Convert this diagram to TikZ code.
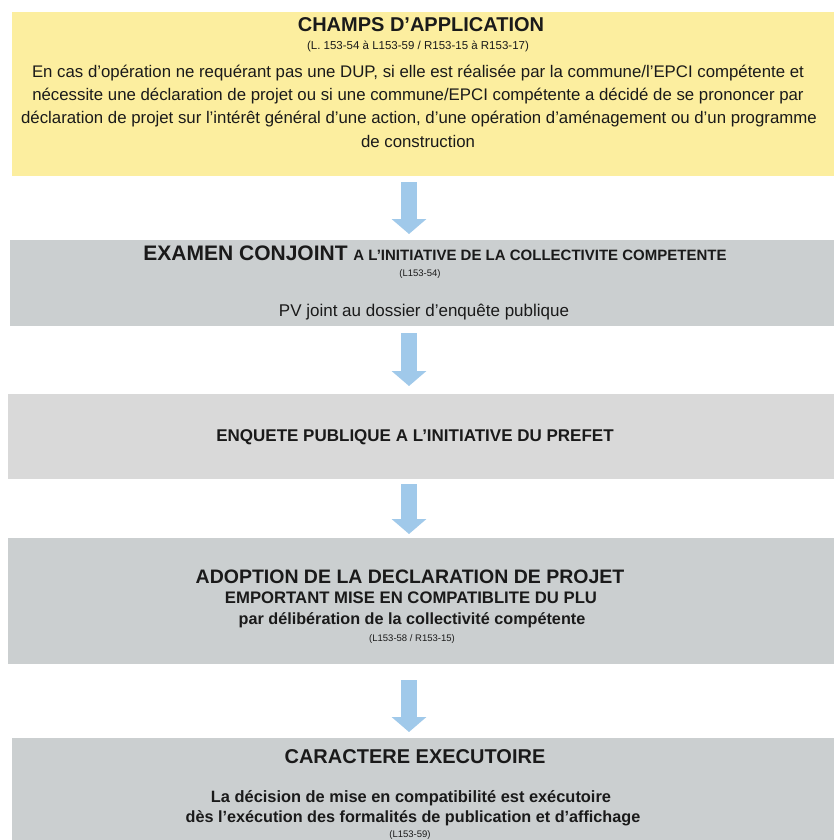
\documentclass[tikz,border=0pt]{standalone}
\usepackage{fontspec}
\setmainfont{Liberation Sans}
\usetikzlibrary{arrows.meta}
\definecolor{yel}{HTML}{FCEE9F}
\definecolor{grayA}{HTML}{CBCFD0}
\definecolor{grayB}{HTML}{D9D9D9}
\definecolor{arrowfill}{HTML}{A0C9EA}
\definecolor{txt}{HTML}{1A1A1A}
\begin{document}
\begin{tikzpicture}[x=1pt,y=-1pt,
  panel/.style={draw=none, inner sep=0pt, outer sep=0pt, anchor=north west},
  flowarrow/.style={draw=arrowfill, line width=16pt,
     -{Triangle[width=34pt,length=15pt,fill=arrowfill]}},
  lbl/.style={inner sep=0pt, text=txt, anchor=base},
  ttl/.style={lbl, font=\bfseries\fontsize{20}{24}\selectfont},
  bld/.style={lbl, font=\bfseries\fontsize{16.2}{19}\selectfont},
  body/.style={lbl, font=\fontsize{16.8}{20}\selectfont},
  ref/.style={lbl, font=\fontsize{9.5}{11}\selectfont}
]
\useasboundingbox[fill=white] (0,0) rectangle (834,840);

% panels
\node[panel, fill=yel,   minimum width=822pt, minimum height=164pt] (b1) at (12,12) {};
\node[panel, fill=grayA, minimum width=824pt, minimum height=86pt]  (b2) at (10,240) {};
\node[panel, fill=grayB, minimum width=826pt, minimum height=85pt]  (b3) at (8,394) {};
\node[panel, fill=grayA, minimum width=826pt, minimum height=126pt] (b4) at (8,538) {};
\node[panel, fill=grayA, minimum width=822pt, minimum height=104pt] (b5) at (12,738) {};

% arrows
\coordinate (ax) at (409,0);
\draw[flowarrow, shorten <=6pt, shorten >=6pt] (b1.south -| ax) -- (b2.north -| ax);
\draw[flowarrow, shorten <=7pt, shorten >=8pt] (b2.south -| ax) -- (b3.north -| ax);
\draw[flowarrow, shorten <=5pt, shorten >=4pt] (b3.south -| ax) -- (b4.north -| ax);
\draw[flowarrow, shorten <=16pt, shorten >=6pt] (b4.south -| ax) -- (b5.north -| ax);

% box 1 texts
\node[ttl] (t1) at (421,32) {CHAMPS D'APPLICATION};
\node[lbl, font=\fontsize{11.5}{13}\selectfont] (r1) at (418,50) {(L. 153-54 à L153-59 / R153-15 à R153-17)};
\node[body] (p1a) at (418,78) {En cas d'opération ne requérant pas une DUP, si elle est réalisée par la commune/l'EPCI compétente et};
\node[body] (p1b) at (418,101) {nécessite une déclaration de projet ou si une commune/EPCI compétente a décidé de se prononcer par};
\node[body] (p1c) at (419,124) {déclaration de projet sur l'intérêt général d'une action, d'une opération d'aménagement ou d'un programme};
\node[body] (p1d) at (418,147) {de construction};

% box 2 texts
\node[lbl, font=\bfseries] (t2) at (435,260) {\fontsize{21}{24}\selectfont EXAMEN CONJOINT \fontsize{15}{17}\selectfont A L'INITIATIVE DE LA COLLECTIVITE COMPETENTE};
\node[ref] (r2) at (420,276) {(L153-54)};
\node[lbl, font=\fontsize{17}{20}\selectfont] (p2) at (424,316) {PV joint au dossier d'enquête publique};

% box 3 texts
\node[lbl, font=\bfseries\fontsize{17}{20}\selectfont] (t3) at (415,441) {ENQUETE PUBLIQUE A L'INITIATIVE DU PREFET};

% box 4 texts
\node[lbl, font=\bfseries\fontsize{19.5}{23}\selectfont] (t4) at (410,583) {ADOPTION DE LA DECLARATION DE PROJET};
\node[lbl, font=\bfseries\fontsize{16.7}{19}\selectfont] (s4) at (411,603) {EMPORTANT MISE EN COMPATIBLITE DU PLU};
\node[bld] (p4) at (412,624) {par délibération de la collectivité compétente};
\node[ref] (r4) at (412,641) {(L153-58 / R153-15)};

% box 5 texts
\node[ttl] (t5) at (415,763) {CARACTERE EXECUTOIRE};
\node[lbl, font=\bfseries\fontsize{16.4}{19}\selectfont] (p5a) at (411,802) {La décision de mise en compatibilité est exécutoire};
\node[bld] (p5b) at (413,822) {dès l'exécution des formalités de publication et d'affichage};
\node[ref] (r5) at (410,837) {(L153-59)};
\end{tikzpicture}
\end{document}
